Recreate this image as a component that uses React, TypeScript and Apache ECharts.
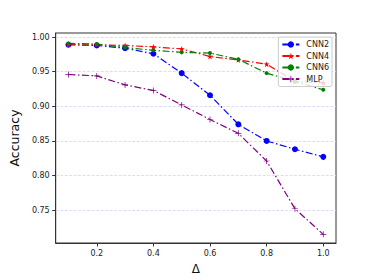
import React, { useEffect, useRef } from "react";
import * as echarts from "echarts";

const deltas = [0.1, 0.2, 0.3, 0.4, 0.5, 0.6, 0.7, 0.8, 0.9, 1.0];
const cnn2 = [0.989, 0.988, 0.984, 0.976, 0.948, 0.916, 0.874, 0.85, 0.838, 0.827];
const cnn4 = [0.989, 0.989, 0.988, 0.986, 0.983, 0.972, 0.967, 0.961, 0.936, 0.934];
const cnn6 = [0.991, 0.99, 0.985, 0.981, 0.978, 0.977, 0.968, 0.948, 0.936, 0.924];
const mlp = [0.946, 0.944, 0.931, 0.923, 0.902, 0.881, 0.861, 0.821, 0.752, 0.715];
const xTicks = [0.2, 0.4, 0.6, 0.8, 1.0];
const yTicks = [0.75, 0.8, 0.85, 0.9, 0.95, 1.0];

const STAR =
  "path://M0,-1 L0.2245,-0.309 L0.951,-0.309 L0.363,0.118 L0.588,0.809 L0,0.382 L-0.588,0.809 L-0.363,0.118 L-0.951,-0.309 L-0.2245,-0.309 Z";
const PLUS =
  "path://M-0.12,-1 L0.12,-1 L0.12,-0.12 L1,-0.12 L1,0.12 L0.12,0.12 L0.12,1 L-0.12,1 L-0.12,0.12 L-1,0.12 L-1,-0.12 L-0.12,-0.12 Z";

const FONT = "DejaVu Sans";
const DASH = [7, 2.5, 1.5, 2.5];

function mk(name: string, vals: number[], color: string, symbol: string, size: number) {
  return {
    name,
    type: "line",
    data: deltas.map((d, i) => [d, vals[i]]),
    symbol,
    symbolSize: size,
    showAllSymbol: true,
    itemStyle: { color },
    lineStyle: { color, width: 1.2, type: DASH },
  };
}

export default function App() {
  const ref = useRef<HTMLDivElement>(null);
  useEffect(() => {
    if (!ref.current) return;
    const chart = echarts.init(ref.current, undefined, { renderer: "svg" });
    chart.setOption({
      animation: false,
      backgroundColor: "#ffffff",
      grid: {
        left: 46,
        top: 33,
        width: 290,
        height: 215,
        show: true,
        borderColor: "#333",
        borderWidth: 1,
        backgroundColor: "transparent",
      },
      legend: {
        orient: "vertical",
        right: 42,
        top: 37,
        padding: [3.5, 3, 3.5, 3],
        itemGap: 3.5,
        itemWidth: 17,
        itemHeight: 8,
        backgroundColor: "rgba(255,255,255,0.8)",
        borderColor: "#cccccc",
        borderWidth: 1,
        borderRadius: 2,
        textStyle: { fontFamily: FONT, fontSize: 8, color: "#222", padding: [0, 0, 0, 2] },
        data: ["CNN2", "CNN4", "CNN6", "MLP"],
      },
      xAxis: {
        type: "value",
        min: 0.055,
        max: 1.045,
        name: "Δ",
        nameLocation: "middle",
        nameGap: 20,
        nameTextStyle: { fontFamily: FONT, fontSize: 12, color: "#111" },
        axisLine: { show: true, lineStyle: { color: "#333" } },
        axisTick: { show: true, length: 3.5, customValues: xTicks, lineStyle: { color: "#333" } },
        axisLabel: {
          customValues: xTicks,
          margin: 6,
          fontFamily: FONT,
          fontSize: 8,
          color: "#222",
          formatter: (v: number) => v.toFixed(1),
        },
        splitLine: { show: false },
      },
      yAxis: {
        type: "value",
        min: 0.7025,
        max: 1.006,
        name: "Accuracy",
        nameLocation: "middle",
        nameGap: 31,
        nameTextStyle: { fontFamily: FONT, fontSize: 12.5, color: "#111" },
        axisLine: { show: true, lineStyle: { color: "#333" } },
        axisTick: { show: true, length: 3.5, customValues: yTicks, lineStyle: { color: "#333" } },
        axisLabel: {
          customValues: yTicks,
          margin: 6,
          fontFamily: FONT,
          fontSize: 8,
          color: "#222",
          formatter: (v: number) => v.toFixed(2),
        },
        splitLine: { show: true, lineStyle: { color: "#d6d6f0", type: [3, 1.5], width: 0.8 } },
      },
      series: [
        mk("CNN2", cnn2, "#0000ff", "circle", 6),
        mk("CNN4", cnn4, "#ff0000", STAR, 6),
        mk("CNN6", cnn6, "#008000", "circle", 4),
        mk("MLP", mlp, "#800080", PLUS, 6),
      ],
    });
    return () => chart.dispose();
  }, []);
  return (
    <div
      ref={ref}
      style={{ position: "fixed", left: 0, top: 0, width: 374, height: 280, background: "#fff" }}
    />
  );
}
